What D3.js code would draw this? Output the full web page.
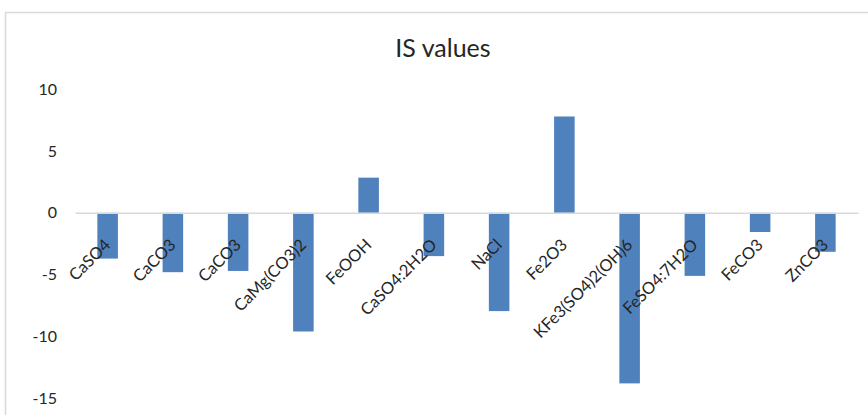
<!DOCTYPE html>
<html>
<head>
<meta charset="utf-8">
<script src="https://cdn.jsdelivr.net/npm/d3@7/dist/d3.min.js"></script>
<style>
  html, body { margin: 0; padding: 0; background: #fff; overflow: hidden; }
  svg { display: block; font-family: Lato, "Open Sans", sans-serif; }
</style>
</head>
<body>
<svg id="chart" width="868" height="415"></svg>
<script>
const title = "IS values";
const categories = ["CaSO4", "CaCO3", "CaCO3", "CaMg(CO3)2", "FeOOH", "CaSO4:2H2O", "NaCl", "Fe2O3", "KFe3(SO4)2(OH)6", "FeSO4:7H2O", "FeCO3", "ZnCO3"];
const values = [-3.7, -4.8, -4.7, -9.6, 2.85, -3.5, -7.95, 7.8, -13.8, -5.1, -1.55, -3.15];
const yTicks = [-15, -10, -5, 0, 5, 10];

const svg = d3.select("#chart");

// chart area frame (extends past the viewport as in the reference)
svg.append("rect")
  .attr("x", 5.5).attr("y", 12.5)
  .attr("width", 900).attr("height", 500)
  .attr("fill", "#fff").attr("stroke", "#d9d9d9").attr("stroke-width", 1.5);

const x = d3.scaleBand()
  .domain(d3.range(categories.length))
  .range([75, 858])
  .paddingInner(0.685)
  .paddingOuter(0.3425);

const y = d3.scaleLinear()
  .domain([-20, 10])
  .range([460, 89.3]);

// title
svg.append("text")
  .attr("x", 443).attr("y", 57)
  .attr("text-anchor", "middle")
  .attr("font-size", 25)
  .attr("fill", "#262626")
  .text(title);

// y axis labels (no axis line, no gridlines)
const yAxis = d3.axisLeft(y).tickValues(yTicks).tickSize(0).tickPadding(0).tickFormat(d => String(d));
const yg = svg.append("g").attr("transform", "translate(57,0)").call(yAxis);
yg.select(".domain").remove();
yg.selectAll("text")
  .attr("font-family", "Lato, 'Open Sans', sans-serif")
  .attr("font-size", 16)
  .attr("fill", "#262626");

// bars
svg.append("g").selectAll("rect")
  .data(values)
  .join("rect")
  .attr("x", (d, i) => x(i))
  .attr("width", x.bandwidth())
  .attr("y", d => y(Math.max(0, d)))
  .attr("height", d => Math.abs(y(d) - y(0)))
  .attr("fill", "#4f81bd");

// zero / category axis line
const xAxis = d3.axisBottom(x).tickSize(0).tickFormat(i => categories[i]);
const xg = svg.append("g").attr("transform", `translate(0,${y(0)})`).call(xAxis);
xg.select(".domain").attr("stroke", "#d9d9d9").attr("stroke-width", 1.5);
xg.selectAll(".tick text")
  .attr("font-family", "Lato, 'Open Sans', sans-serif")
  .attr("font-size", 16.5)
  .attr("fill", "#262626")
  .attr("text-anchor", "end")
  .attr("dy", null)
  .attr("y", 0)
  .attr("transform", "translate(4,33) rotate(-45)");
</script>
</body>
</html>
